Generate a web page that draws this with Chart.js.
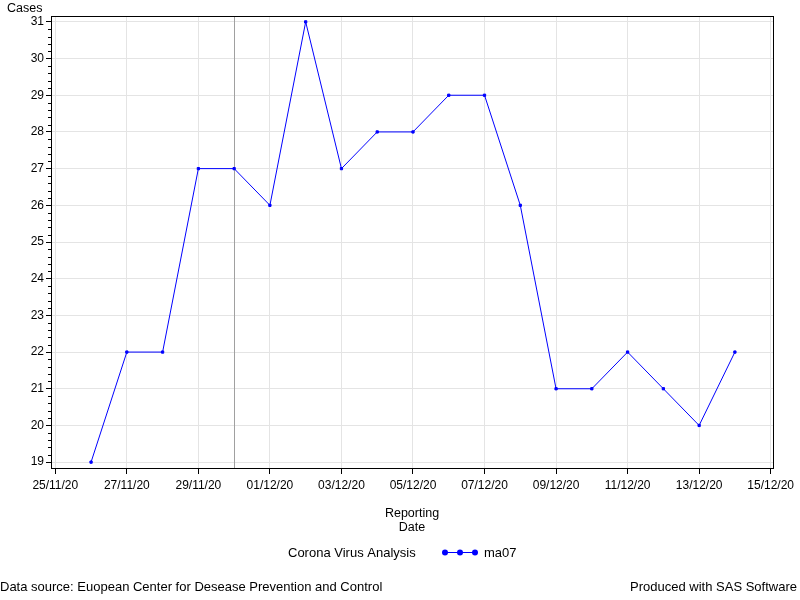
<!DOCTYPE html>
<html>
<head>
<meta charset="utf-8">
<script src="https://cdn.jsdelivr.net/npm/chart.js@4"></script>
<style>
  html, body { margin: 0; padding: 0; background: #fff; }
  #wrap { width: 800px; height: 600px; }
</style>
</head>
<body>
<div id="wrap"><canvas id="chart" width="800" height="600"></canvas></div>
<script>
const reportDates = ['26/11/20','27/11/20','28/11/20','29/11/20','30/11/20','01/12/20','02/12/20',
  '03/12/20','04/12/20','05/12/20','06/12/20','07/12/20','08/12/20','09/12/20','10/12/20',
  '11/12/20','12/12/20','13/12/20','14/12/20']
const ma07 = [19, 22, 22, 27, 27, 26, 31, 27, 28, 28, 29, 29, 26, 21, 21, 22, 21, 20, 22]
const xTickLabels = ['25/11/20','27/11/20','29/11/20','01/12/20','03/12/20','05/12/20',
  '07/12/20','09/12/20','11/12/20','13/12/20','15/12/20']
const yTickLabels = [19, 20, 21, 22, 23, 24, 25, 26, 27, 28, 29, 30, 31]
const refDate = '30/11/20'

const FONT = '"Liberation Sans", Arial, sans-serif'

// dd/mm/yy -> days since first x tick
function dayOf(s) {
  const p = s.split('/')
  return Date.UTC(2000 + +p[2], +p[1] - 1, +p[0]) / 86400000
}
const day0 = dayOf(xTickLabels[0])
const xOf = s => dayOf(s) - day0

const points = reportDates.map((d, i) => ({ x: xOf(d), y: ma07[i] }))
const xTickValues = xTickLabels.map(xOf)

const extras = {
  id: 'extras',
  beforeDatasetsDraw(chart) {
    const { ctx, chartArea: a, scales } = chart
    const rx = scales.x.getPixelForValue(xOf(refDate))
    ctx.save()
    ctx.strokeStyle = '#a0a0a0'
    ctx.lineWidth = 1
    ctx.beginPath()
    ctx.moveTo(Math.round(rx) + 0.5, a.top)
    ctx.lineTo(Math.round(rx) + 0.5, a.bottom)
    ctx.stroke()
    ctx.restore()
  },
  afterDraw(chart) {
    const { ctx, chartArea: a, scales } = chart
    ctx.save()
    // frame
    ctx.strokeStyle = '#000'
    ctx.lineWidth = 1
    ctx.strokeRect(Math.round(a.left) + 0.5, Math.round(a.top) + 0.5,
      Math.round(a.right - a.left), Math.round(a.bottom - a.top))
    // minor y ticks
    ctx.beginPath()
    for (let i = 0; i < yTickLabels.length - 1; i++) {
      for (let k = 1; k < 5; k++) {
        const v = yTickLabels[i] + k / 5
        const py = Math.round(scales.y.getPixelForValue(v)) + 0.5
        ctx.moveTo(a.left - 3, py)
        ctx.lineTo(a.left, py)
      }
    }
    ctx.stroke()

    ctx.fillStyle = '#000'
    ctx.textBaseline = 'alphabetic'
    ctx.textAlign = 'left'
    ctx.font = '12.5px ' + FONT
    ctx.fillText('Cases', 7, 12)

    const cx = (a.left + a.right) / 2
    ctx.textAlign = 'center'
    ctx.fillText('Reporting', cx, 517)
    ctx.fillText('Date', cx, 531)

    // legend
    ctx.font = '13px ' + FONT
    ctx.textAlign = 'left'
    ctx.fillText('Corona Virus Analysis', 288, 557)
    ctx.strokeStyle = '#0000ff'
    ctx.fillStyle = '#0000ff'
    ctx.beginPath()
    ctx.moveTo(443, 552.5)
    ctx.lineTo(477, 552.5)
    ctx.stroke()
    for (const dx of [445, 460, 475]) {
      ctx.beginPath()
      ctx.arc(dx, 552.5, 3, 0, Math.PI * 2)
      ctx.fill()
    }
    ctx.fillStyle = '#000'
    ctx.fillText('ma07', 484, 557)

    // footnotes
    ctx.fillText('Data source: Euopean Center for Desease Prevention and Control', 0, 591)
    ctx.textAlign = 'right'
    ctx.fillText('Produced with SAS Software', 797, 591)
    ctx.restore()
  }
}

new Chart(document.getElementById('chart'), {
  type: 'line',
  data: {
    datasets: [{
      label: 'ma07',
      data: points,
      borderColor: '#0000ff',
      backgroundColor: '#0000ff',
      borderWidth: 1,
      pointStyle: 'rect',
      pointRadius: 1.6,
      pointBorderWidth: 1,
      tension: 0
    }]
  },
  options: {
    responsive: false,
    animation: false,
    devicePixelRatio: 1,
    layout: { padding: { top: 16, right: 27, bottom: 0, left: 0 } },
    plugins: { legend: { display: false }, tooltip: { enabled: false } },
    scales: {
      x: {
        type: 'linear',
        min: -0.12,
        max: 20.065,
        afterBuildTicks: s => { s.ticks = xTickValues.map(v => ({ value: v })) },
        afterFit: s => { s.height = 132 },
        grid: { color: '#e4e4e4', tickColor: '#000', tickLength: 6, drawTicks: true },
        border: { display: true, color: '#000' },
        ticks: {
          autoSkip: false,
          maxRotation: 0,
          padding: 4,
          color: '#000',
          font: { family: FONT, size: 12 },
          callback: v => xTickLabels[xTickValues.indexOf(v)]
        }
      },
      y: {
        min: 18.84,
        max: 31.16,
        afterBuildTicks: s => { s.ticks = yTickLabels.map(v => ({ value: v })) },
        afterFit: s => { s.width = 51 },
        grid: { color: '#e4e4e4', tickColor: '#000', tickLength: 5 },
        border: { display: true, color: '#000' },
        ticks: {
          padding: 2,
          color: '#000',
          font: { family: FONT, size: 12 },
          callback: v => String(v)
        }
      }
    }
  },
  plugins: [extras]
})
</script>
</body>
</html>
